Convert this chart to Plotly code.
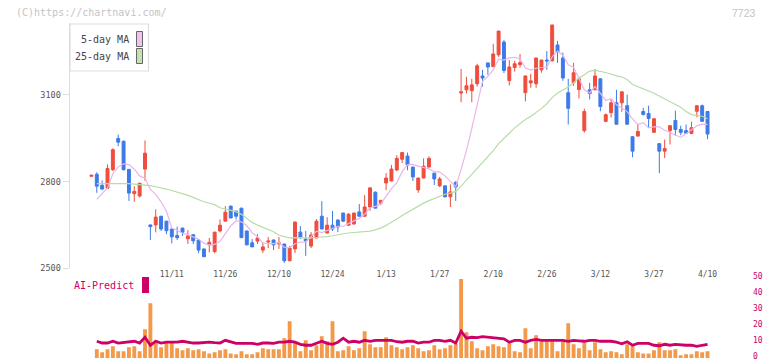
import plotly.graph_objects as go
import pandas as pd

# ---------------- data ----------------
tick_index = [15, 25, 35, 45, 55, 65, 75, 85, 95, 105, 115]
tick_labels = ["11/11", "11/26", "12/10", "12/24", "1/13", "1/27",
               "2/10", "2/26", "3/12", "3/27", "4/10"]

opens = [2818, 2825, 2787, 2777, 2841, 2949, 2939, 2842, 2758, 2750,
         2843, 2650, 2650, 2680, 2663, 2636, 2613, 2639, 2602, 2616,
         2598, 2567, 2581, 2558, 2629, 2663, 2715, 2698, 2708, 2629,
         2588, 2594, 2563, 2591, 2598, 2584, 2584, 2526, 2567, 2625,
         2601, 2577, 2605, 2680, 2622, 2649, 2667, 2691, 2649, 2653,
         2695, 2680, 2712, 2763, 2725, 2795, 2802, 2840, 2877, 2888,
         2850, 2771, 2812, 2850, 2829, 2785, 2785, 2747, 2797, 3106,
         3117, 3114, 3138, 3165, 3210, 3197, 3238, 3282, 3149, 3194,
         3204, 3107, 3141, 3138, 3186, 3220, 3217, 3272, 3227, 3107,
         3142, 3118, 2976, 3117, 3117, 3155, 3008, 3038, 3072, 3072,
         3062, 2955, 2957, 3042, 3035, 2970, 2931, 2905, 2976, 3011,
         2980, 2976, 2966, 3043, 3062, 3042]

highs = [2822, 2832, 2804, 2859, 2915, 2962, 2942, 2842, 2784, 2796,
         2942, 2651, 2704, 2681, 2664, 2637, 2644, 2640, 2632, 2617,
         2599, 2568, 2605, 2626, 2669, 2715, 2716, 2699, 2709, 2630,
         2601, 2618, 2588, 2608, 2599, 2608, 2585, 2577, 2661, 2646,
         2629, 2625, 2670, 2732, 2677, 2698, 2668, 2692, 2691, 2692,
         2722, 2753, 2781, 2766, 2736, 2829, 2857, 2891, 2901, 2900,
         2851, 2813, 2880, 2887, 2830, 2816, 2786, 2790, 2801, 3189,
         3162, 3155, 3207, 3186, 3211, 3276, 3321, 3289, 3220, 3217,
         3241, 3166, 3172, 3228, 3221, 3251, 3342, 3286, 3246, 3155,
         3210, 3156, 3052, 3141, 3189, 3156, 3035, 3086, 3117, 3111,
         3100, 2956, 3000, 3055, 3062, 3018, 2932, 2945, 2994, 3045,
         2993, 2997, 3007, 3063, 3066, 3043]

lows = [2818, 2761, 2770, 2774, 2836, 2922, 2838, 2733, 2730, 2745,
        2802, 2598, 2624, 2629, 2618, 2586, 2598, 2612, 2584, 2584,
        2552, 2539, 2555, 2552, 2624, 2662, 2673, 2669, 2605, 2580,
        2573, 2584, 2553, 2570, 2563, 2567, 2519, 2525, 2553, 2601,
        2543, 2570, 2604, 2635, 2621, 2629, 2625, 2660, 2648, 2652,
        2679, 2679, 2699, 2707, 2718, 2770, 2801, 2836, 2864, 2839,
        2802, 2761, 2811, 2849, 2788, 2781, 2746, 2712, 2733, 3074,
        3104, 3074, 3128, 3128, 3169, 3196, 3231, 3175, 3132, 3180,
        3194, 3077, 3124, 3124, 3176, 3186, 3216, 3210, 3148, 2997,
        3131, 3087, 2969, 3084, 3116, 3043, 3005, 3021, 2997, 3041,
        2997, 2884, 2956, 3028, 2985, 2969, 2829, 2881, 2928, 2959,
        2960, 2966, 2965, 3022, 3007, 2946]

closes = [2822, 2784, 2774, 2845, 2910, 2936, 2841, 2760, 2766, 2794,
          2898, 2644, 2677, 2636, 2630, 2609, 2606, 2625, 2612, 2595,
          2563, 2540, 2590, 2625, 2649, 2694, 2674, 2680, 2606, 2581,
          2574, 2605, 2574, 2594, 2581, 2588, 2526, 2570, 2660, 2608,
          2594, 2615, 2663, 2636, 2649, 2636, 2643, 2663, 2687, 2691,
          2680, 2712, 2778, 2708, 2735, 2812, 2843, 2880, 2900, 2857,
          2816, 2812, 2853, 2880, 2809, 2809, 2747, 2764, 2781, 3110,
          3131, 3134, 3200, 3158, 3196, 3241, 3320, 3184, 3196, 3207,
          3211, 3165, 3148, 3227, 3220, 3217, 3341, 3248, 3158, 3053,
          3176, 3155, 3042, 3104, 3165, 3059, 3031, 3072, 2998, 3110,
          2998, 2905, 2973, 3032, 3018, 3017, 2905, 2914, 2993, 2980,
          2970, 2967, 2986, 3062, 3008, 2964]

# moving-average values at the left edge (they depend on days before the window)
ma5_head = [None, 2738, 2757, 2778]
ma25_head = [None, 2793, 2793, 2793, 2793, 2795, 2795, 2793, 2791, 2790,
             2789, 2786, 2782, 2779, 2774, 2769, 2764, 2759, 2752, 2745,
             2737, 2730, 2725, 2720]

volume = [None, 5.5, 3.6, 5.5, 7.3, 4.2, 4.2, 6.7, 7.3, 4.2, 18.0,
          34.4, 11.1, 6.7, 9.9, 9.9, 6.1, 4.8, 6.1, 4.8, 5.5,
          4.2, 2.9, 3.6, 4.8, 5.5, 2.9, 2.3, 4.2, 2.3, 2.3,
          3.6, 6.1, 5.5, 5.5, 5.5, 12.4, 23.1, 9.9, 4.2, 11.1,
          4.8, 8.0, 13.6, 10.5, 23.1, 4.2, 4.8, 7.3, 4.8, 6.1,
          16.8, 8.6, 6.7, 6.7, 13.0, 8.0, 6.7, 5.5, 6.7, 8.0,
          6.1, 4.2, 4.8, 8.0, 5.5, 6.1, 8.0, 8.6, 49.5, 16.1,
          10.5, 6.1, 4.8, 7.3, 8.6, 7.3, 6.7, 9.2, 4.2, 3.6,
          18.7, 6.1, 14.3, 10.5, 10.5, 10.5, 4.2, 10.5, 21.8, 8.6,
          6.1, 9.9, 4.8, 9.9, 5.5, 3.6, 4.2, 3.6, 2.3, 8.6,
          7.3, 3.6, 2.9, 2.9, 4.8, 9.9, 4.8, 4.8, 5.5, 1.7,
          2.3, 2.3, 4.2, 3.6, 4.2]

ai_predict = [None, 10.5, 9.4, 9.4, 10.5, 9.4, 9.9, 10.3, 10.5, 9.4, 13.0,
              8.0, 10.5, 9.4, 9.9, 9.9, 9.9, 10.5, 9.9, 9.4, 9.4,
              9.6, 9.9, 9.6, 9.4, 11.1, 9.9, 9.2, 9.2, 9.2, 9.2,
              8.6, 9.4, 9.4, 9.2, 9.9, 9.9, 10.5, 9.9, 8.6, 8.0,
              8.0, 9.2, 10.5, 9.2, 8.6, 9.9, 12.4, 9.9, 10.5, 9.9,
              11.1, 10.5, 11.1, 11.1, 11.1, 11.1, 10.2, 9.9, 10.5, 10.5,
              9.4, 9.9, 9.9, 11.1, 11.1, 10.5, 11.1, 9.4, 16.8, 12.4,
              13.0, 12.8, 13.4, 13.0, 12.8, 12.6, 12.0, 9.9, 11.1, 11.1,
              9.9, 11.1, 11.7, 11.1, 11.1, 11.1, 11.1, 11.1, 10.5, 11.1,
              10.8, 10.5, 11.1, 11.1, 10.5, 10.5, 10.5, 9.9, 8.9, 10.2,
              8.0, 9.2, 9.2, 9.2, 8.0, 7.7, 8.6, 8.0, 8.6, 8.2,
              8.0, 8.0, 7.3, 8.0, 8.6]

price_ticks = [2500, 2800, 3100]
ai_ticks = [0, 10, 20, 30, 40, 50]

# ---------------- derived series ----------------
idx = list(range(len(closes)))
cs = pd.Series(closes, dtype=float)
ma5 = cs.rolling(5).mean().tolist()
ma5[:len(ma5_head)] = ma5_head
ma25 = cs.rolling(25).mean().tolist()
ma25[:len(ma25_head)] = ma25_head

# ---------------- styling ----------------
RED = "#ef4d3d"
BLUE = "#3d7ae9"
PINK = "#e9b6e9"
GREEN = "#b6dca8"
ORANGE = "#f2994a"
CRIMSON = "#cc0066"
MONO = "DejaVu Sans Mono"

W, H = 772, 361
ML, MR, MT, MB = 70, 20, 23, 3
PW, PH = W - ML - MR, H - MT - MB


def pxx(px):
    return (px - ML) / PW


def pxy(py):
    return (H - MB - py) / PH


fig = go.Figure()
fig.add_trace(go.Candlestick(
    x=idx, open=opens, high=highs, low=lows, close=closes,
    increasing=dict(line=dict(color=RED, width=1), fillcolor=RED),
    decreasing=dict(line=dict(color=BLUE, width=1), fillcolor=BLUE),
    whiskerwidth=0, hoverinfo="skip", showlegend=False,
    xaxis="x", yaxis="y"))
fig.add_trace(go.Scatter(x=idx, y=ma5, mode="lines",
                         line=dict(color=PINK, width=1.2),
                         hoverinfo="skip", xaxis="x", yaxis="y"))
fig.add_trace(go.Scatter(x=idx, y=ma25, mode="lines",
                         line=dict(color=GREEN, width=1.2),
                         hoverinfo="skip", xaxis="x", yaxis="y"))
fig.add_trace(go.Bar(x=idx, y=volume, marker=dict(color=ORANGE, line=dict(width=0)),
                     width=0.72, hoverinfo="skip", xaxis="x2", yaxis="y2"))
fig.add_trace(go.Scatter(x=idx, y=ai_predict, mode="lines",
                         line=dict(color=CRIMSON, width=2.8),
                         hoverinfo="skip", xaxis="x2", yaxis="y2"))

main_bottom = pxy(268.3)
sub_top = pxy(278.3)

fig.update_layout(
    width=W, height=H,
    margin=dict(l=ML, r=MR, t=MT, b=MB, autoexpand=False),
    paper_bgcolor="white", plot_bgcolor="white",
    showlegend=False, boxgap=0.22,
    xaxis=dict(domain=[0, 1], range=[-4.0, 123.3], anchor="y",
               tickvals=tick_index, ticktext=tick_labels, ticks="",
               showline=False, showgrid=False, zeroline=False,
               tickfont=dict(family=MONO, size=8, color="#555555"),
               rangeslider=dict(visible=False), fixedrange=True,
               automargin=False),
    xaxis2=dict(domain=[0, 1], matches="x", anchor="y2",
                showticklabels=False, showgrid=False, zeroline=False,
                showline=False, ticks="", rangeslider=dict(visible=False),
                automargin=False),
    xaxis3=dict(overlaying="x", anchor="y", range=[0, 11],
                tickvals=list(range(12)), ticks="outside", ticklen=5,
                tickcolor="#dddddd", tickwidth=1.5, showline=True,
                linecolor="#dddddd", linewidth=1.5,
                showticklabels=False, showgrid=False, zeroline=False,
                automargin=False),
    yaxis=dict(domain=[main_bottom, 1], range=[2500, 3348],
               tickvals=price_ticks, ticks="outside", ticklen=6,
               tickcolor="#dddddd", tickwidth=1.5, showline=True,
               linecolor="#dddddd", linewidth=1.5,
               showgrid=False, zeroline=False, automargin=False,
               tickfont=dict(family=MONO, size=8.5, color="#555555")),
    yaxis2=dict(domain=[0, sub_top], range=[0, 50], side="right",
                anchor="x2", tickvals=ai_ticks, ticks="",
                showline=False, showgrid=False, zeroline=False,
                automargin=False, ticklabeloverflow="allow",
                ticklabelshift=-2,
                tickfont=dict(family=MONO, size=8, color=CRIMSON)),
)

annotations = [
    dict(text="(C)https://chartnavi.com/", x=pxx(14), y=pxy(12.5),
         xanchor="left", yanchor="middle",
         font=dict(family=MONO, size=10, color="#c4c4c4")),
    dict(text="7723", x=pxx(758), y=pxy(12.5), xanchor="right", yanchor="middle",
         font=dict(family="Liberation Sans", size=10.5, color="#c4c4c4")),
    dict(text="5-day MA", x=pxx(130.5), y=pxy(39.5), xanchor="right", yanchor="middle",
         font=dict(family=MONO, size=10, color="#444444")),
    dict(text="25-day MA", x=pxx(130.5), y=pxy(56), xanchor="right", yanchor="middle",
         font=dict(family=MONO, size=10, color="#444444")),
    dict(text="AI-Predict", x=pxx(135.5), y=pxy(285.5), xanchor="right", yanchor="middle",
         font=dict(family=MONO, size=10, color=CRIMSON)),
]
for a in annotations:
    a.update(xref="paper", yref="paper", showarrow=False)
fig.update_layout(annotations=annotations)

shapes = [
    dict(type="rect", x0=pxx(70), x1=pxx(148.5), y0=pxy(24), y1=pxy(71),
         line=dict(color="#dddddd", width=1.2), fillcolor="white", layer="below"),
    dict(type="rect", x0=pxx(136.5), x1=pxx(142.5), y0=pxy(31.5), y1=pxy(46.5),
         line=dict(color="#666666", width=1), fillcolor="#f0c2f0"),
    dict(type="rect", x0=pxx(136.5), x1=pxx(142.5), y0=pxy(48.5), y1=pxy(63.5),
         line=dict(color="#666666", width=1), fillcolor="#c2e2b4"),
    dict(type="rect", x0=pxx(142), x1=pxx(149), y0=pxy(277), y1=pxy(293),
         line=dict(width=0), fillcolor=CRIMSON),
]
for s in shapes:
    s.update(xref="paper", yref="paper")
fig.update_layout(shapes=shapes)

fig.write_html("out.html",
               config={"displayModeBar": False, "staticPlot": True},
               post_script="document.body.style.margin='0px';"
                           "document.body.style.overflow='hidden';")
